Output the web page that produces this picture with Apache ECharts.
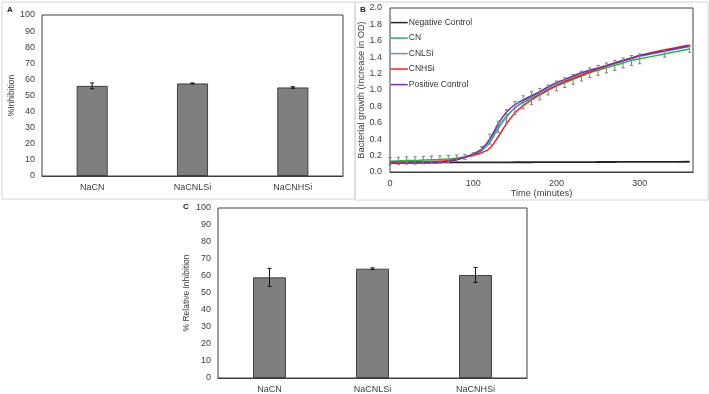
<!DOCTYPE html>
<html>
<head>
<meta charset="utf-8">
<script src="https://cdn.jsdelivr.net/npm/echarts@6/dist/echarts.min.js"></script>
<style>
  html, body { margin: 0; padding: 0; background: #fff; }
  #chart { width: 709px; height: 394px; }
</style>
</head>
<body>
<div id="chart"></div>
<script>
// 面板 A / C 柱状图数据
const barCategories = ['NaCN', 'NaCNLSi', 'NaCNHSi'];
const inhibitionA = [56, 57.5, 55];
const inhibitionAErr = [1.8, 0.3, 0.5];
const relInhibitionC = [59.2, 64.3, 60.6];
const relInhibitionCErr = [5.3, 0.5, 4.4];

// 面板 B 生长曲线 (minutes)
const timeMin = [0, 10, 20, 30, 40, 50, 60, 70, 80, 90, 100, 110, 120, 130, 140, 150, 160, 170, 180, 190, 200,
  210, 220, 230, 240, 250, 260, 270, 280, 290, 300, 330, 360];
const negativeControl = [0.115, 0.115, 0.115, 0.115, 0.116, 0.116, 0.116, 0.117, 0.117, 0.117, 0.117, 0.118, 0.118,
  0.118, 0.118, 0.119, 0.119, 0.119, 0.12, 0.12, 0.12, 0.12, 0.121, 0.121, 0.121, 0.122, 0.122, 0.122, 0.123, 0.123,
  0.123, 0.124, 0.125];
const cnGrowth = [0.13, 0.135, 0.14, 0.14, 0.145, 0.15, 0.152, 0.158, 0.168, 0.185, 0.215, 0.27, 0.40, 0.55, 0.68,
  0.78, 0.85, 0.90, 0.95, 1.00, 1.05, 1.09, 1.13, 1.17, 1.21, 1.24, 1.27, 1.30, 1.33, 1.36, 1.38, 1.44, 1.50];
const cnErr = [0.045, 0.045, 0.045, 0.045, 0.045, 0.045, 0.045, 0.045, 0.04, 0.03, 0.02, 0.04, 0.06, 0.07, 0.08,
  0.08, 0.08, 0.08, 0.07, 0.06, 0.06, 0.06, 0.06, 0.06, 0.06, 0.06, 0.06, 0.06, 0.06, 0.06, 0.06, 0.04, 0.04];
const cnlsiGrowth = [0.11, 0.112, 0.113, 0.114, 0.115, 0.117, 0.12, 0.13, 0.15, 0.18, 0.21, 0.26, 0.36, 0.53, 0.67,
  0.78, 0.86, 0.92, 0.97, 1.02, 1.07, 1.11, 1.15, 1.19, 1.23, 1.26, 1.29, 1.32, 1.35, 1.38, 1.41, 1.47, 1.53];
const cnhsiGrowth = [0.12, 0.122, 0.123, 0.124, 0.125, 0.127, 0.13, 0.14, 0.155, 0.18, 0.205, 0.235, 0.29, 0.43,
  0.59, 0.72, 0.81, 0.88, 0.94, 1.00, 1.05, 1.10, 1.14, 1.18, 1.22, 1.26, 1.29, 1.33, 1.36, 1.39, 1.42, 1.49, 1.55];
const positiveControl = [0.105, 0.107, 0.108, 0.11, 0.112, 0.115, 0.12, 0.13, 0.15, 0.18, 0.22, 0.28, 0.40, 0.59,
  0.73, 0.82, 0.88, 0.93, 0.98, 1.04, 1.09, 1.13, 1.17, 1.21, 1.24, 1.27, 1.30, 1.33, 1.36, 1.39, 1.42, 1.48, 1.54];

const FONT = 'Liberation Sans, Arial, sans-serif';
const TXT = '#404040';

const pairs = (ys) => timeMin.map((t, i) => [t, ys[i]]);

// 误差线: value = [x, low, high]
function errorBar(capW, color) {
  return function (params, api) {
    const x = api.value(0);
    const lo = api.coord([x, api.value(1)]);
    const hi = api.coord([x, api.value(2)]);
    const style = { stroke: color, lineWidth: 1 };
    return {
      type: 'group',
      children: [
        { type: 'line', shape: { x1: hi[0], y1: hi[1], x2: lo[0], y2: lo[1] }, style },
        { type: 'line', shape: { x1: hi[0] - capW, y1: hi[1], x2: hi[0] + capW, y2: hi[1] }, style },
        { type: 'line', shape: { x1: lo[0] - capW, y1: lo[1], x2: lo[0] + capW, y2: lo[1] }, style }
      ]
    };
  };
}

const barErr = (vals, errs) => vals.map((v, i) => [i, v - errs[i], v + errs[i]]);

const catAxis = (gridIndex) => ({
  type: 'category', gridIndex, data: barCategories,
  axisLine: { lineStyle: { color: '#404040' } },
  axisTick: { show: false },
  axisLabel: { color: TXT, fontFamily: FONT, fontSize: 9, margin: 7 }
});

const pctAxis = (gridIndex, name, nameGap) => ({
  type: 'value', gridIndex, min: 0, max: 100, interval: 10,
  name, nameLocation: 'middle', nameGap, nameRotate: 90,
  nameTextStyle: { color: TXT, fontFamily: FONT, fontSize: 8.5 },
  axisLine: { show: false }, axisTick: { show: false }, splitLine: { show: false },
  axisLabel: { color: TXT, fontFamily: FONT, fontSize: 9, margin: 7 }
});

const barStyle = { color: '#7f7f7f', borderColor: '#404040', borderWidth: 1 };

const lineSeries = (name, ys, color, width) => ({
  name, type: 'line', xAxisIndex: 1, yAxisIndex: 1, data: pairs(ys),
  smooth: 0.3, symbol: 'none', showSymbol: false, lineStyle: { color, width }, itemStyle: { color }
});

const chart = echarts.init(document.getElementById('chart'));

chart.setOption({
  animation: false,
  backgroundColor: '#fff',
  graphic: [
    { type: 'rect', shape: { x: 2, y: 2, width: 353, height: 197 }, style: { fill: 'none', stroke: '#d4d4d4', lineWidth: 1 } },
    { type: 'rect', shape: { x: 355, y: 2, width: 353, height: 198 }, style: { fill: 'none', stroke: '#d4d4d4', lineWidth: 1 } },
    { type: 'text', left: 7, top: 6, style: { text: 'A', font: 'bold 8px ' + FONT, fill: '#222' } },
    { type: 'text', left: 360, top: 6, style: { text: 'B', font: 'bold 8px ' + FONT, fill: '#222' } },
    { type: 'text', left: 183, top: 203, style: { text: 'C', font: 'bold 8px ' + FONT, fill: '#222' } }
  ],
  legend: {
    data: ['Negative Control', 'CN', 'CNLSi', 'CNHSi', 'Positive Control'],
    orient: 'vertical', left: 385, top: 12,
    itemWidth: 17, itemHeight: 14, itemGap: 4.3,
    itemStyle: { opacity: 0 },
    lineStyle: { width: 1.5 },
    textStyle: { color: '#333', fontFamily: FONT, fontSize: 8.5, padding: [0, 0, 0, -4] }
  },
  grid: [
    { left: 42, top: 15, width: 301, height: 161, show: true, borderColor: '#404040', borderWidth: 1 },
    { left: 390, top: 8, width: 303, height: 164, show: true, borderColor: '#404040', borderWidth: 1 },
    { left: 218, top: 208, width: 309, height: 170, show: true, borderColor: '#404040', borderWidth: 1 }
  ],
  xAxis: [
    catAxis(0),
    {
      type: 'value', gridIndex: 1, min: 0, max: 364, interval: 100,
      name: 'Time (minutes)', nameLocation: 'middle', nameGap: 16,
      nameTextStyle: { color: TXT, fontFamily: FONT, fontSize: 9.3 },
      axisLine: { lineStyle: { color: '#404040' } }, axisTick: { show: false }, splitLine: { show: false },
      axisLabel: { color: TXT, fontFamily: FONT, fontSize: 9, margin: 7, showMaxLabel: false }
    },
    catAxis(2)
  ],
  yAxis: [
    pctAxis(0, '%Inhibition', 25),
    {
      type: 'value', gridIndex: 1, min: 0, max: 2, interval: 0.2,
      name: 'Bacterial growth (Increase in OD)', nameLocation: 'middle', nameGap: 23, nameRotate: 90,
      nameTextStyle: { color: TXT, fontFamily: FONT, fontSize: 9.3 },
      axisLine: { show: false }, axisTick: { show: false }, splitLine: { show: false },
      axisLabel: { color: TXT, fontFamily: FONT, fontSize: 9, margin: 8, formatter: (v) => v.toFixed(1) }
    },
    pctAxis(2, '% Relative Inhibition', 27)
  ],
  series: [
    { type: 'bar', xAxisIndex: 0, yAxisIndex: 0, data: inhibitionA, barWidth: '31%', itemStyle: barStyle },
    {
      type: 'custom', xAxisIndex: 0, yAxisIndex: 0, z: 5,
      renderItem: errorBar(2, '#111'), data: barErr(inhibitionA, inhibitionAErr)
    },
    { type: 'bar', xAxisIndex: 2, yAxisIndex: 2, data: relInhibitionC, barWidth: '32%', itemStyle: barStyle },
    {
      type: 'custom', xAxisIndex: 2, yAxisIndex: 2, z: 5,
      renderItem: errorBar(2, '#111'), data: barErr(relInhibitionC, relInhibitionCErr)
    },
    lineSeries('Negative Control', negativeControl, '#262626', 1.8),
    lineSeries('CN', cnGrowth, '#2fb04a', 1.5),
    lineSeries('CNLSi', cnlsiGrowth, '#4e9ad8', 1.5),
    lineSeries('CNHSi', cnhsiGrowth, '#ff1a1a', 1.5),
    lineSeries('Positive Control', positiveControl, '#7030a0', 1.5),
    {
      type: 'custom', xAxisIndex: 1, yAxisIndex: 1, z: 5,
      renderItem: errorBar(1.7, '#808080'),
      data: timeMin.map((t, i) => [t, cnGrowth[i] - cnErr[i], cnGrowth[i] + cnErr[i]])
    }
  ]
});
</script>
</body>
</html>
